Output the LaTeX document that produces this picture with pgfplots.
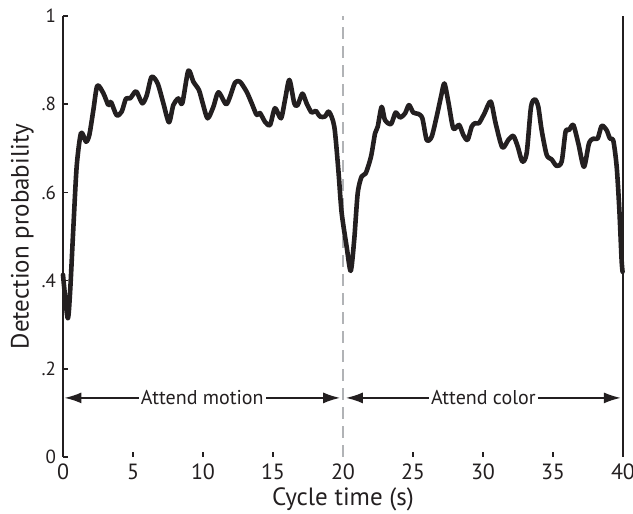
\documentclass[border=0pt]{standalone}
\usepackage{fontspec}
\setmainfont{PT Sans}
\usepackage{pgfplots}
\pgfplotsset{compat=1.18}
\usetikzlibrary{arrows.meta}
\definecolor{ink}{HTML}{231F20}
\definecolor{dashgray}{HTML}{B1B3B6}

\pgfplotstableread{
t p
0 0.413
0.33 0.315
0.5 0.37
0.74 0.52
0.98 0.66
1.29 0.735
1.64 0.715
1.88 0.73
2.17 0.787
2.45 0.842
2.88 0.825
3.24 0.798
3.43 0.805
3.83 0.775
4.19 0.783
4.5 0.813
4.79 0.813
5.14 0.828
5.3 0.826
5.67 0.802
5.98 0.82
6.33 0.862
6.76 0.847
7.17 0.802
7.57 0.759
7.88 0.798
8.24 0.813
8.52 0.802
8.95 0.876
9.31 0.851
9.71 0.832
10.0 0.80
10.33 0.768
10.74 0.794
11.1 0.827
11.64 0.8
11.93 0.817
12.29 0.849
12.64 0.851
13.12 0.828
13.48 0.802
13.83 0.776
14.07 0.78
14.43 0.76
14.79 0.753
15.14 0.791
15.57 0.768
15.86 0.81
16.17 0.855
16.52 0.802
16.76 0.798
17.1 0.824
17.4 0.802
17.76 0.781
18.05 0.785
18.36 0.772
18.71 0.772
19.0 0.783
19.38 0.749
19.67 0.65
19.9 0.555
20.26 0.477
20.55 0.422
20.8 0.492
21.05 0.598
21.33 0.636
21.62 0.643
22.0 0.681
22.29 0.734
22.48 0.749
22.76 0.794
23.0 0.764
23.43 0.755
23.76 0.781
24.07 0.77
24.43 0.779
24.71 0.798
25.02 0.781
25.38 0.778
25.67 0.768
25.98 0.719
26.33 0.726
26.69 0.772
27.0 0.817
27.24 0.847
27.52 0.806
27.88 0.745
28.29 0.753
28.6 0.73
28.9 0.719
29.19 0.749
29.43 0.757
29.71 0.757
30.1 0.779
30.55 0.806
30.9 0.757
31.38 0.702
31.81 0.719
32.17 0.728
32.48 0.704
32.81 0.67
33.12 0.689
33.43 0.794
33.71 0.811
33.95 0.794
34.19 0.741
34.55 0.685
34.9 0.675
35.26 0.66
35.62 0.67
35.9 0.738
36.14 0.741
36.45 0.753
36.81 0.711
37.21 0.658
37.57 0.711
37.88 0.722
38.19 0.722
38.48 0.751
38.83 0.741
39.07 0.722
39.31 0.717
39.55 0.658
39.74 0.56
39.9 0.447
39.97 0.42
}\detection

\begin{document}
\begin{tikzpicture}
	\begin{axis}[
		scale only axis,
		width=280pt,
		height=220.5pt,
		xmin=0, xmax=40,
		ymin=0, ymax=1,
		axis lines=left,
		axis line style={-, draw=ink, line width=1pt},
		x axis line style={draw=none},
		xtick={0,5,...,40},
		ytick={0,0.2,0.4,0.6,0.8,1},
		yticklabels={0,.2,.4,.6,.8,1},
		tick align=inside,
		major tick length=2.5pt,
		tick style={draw=ink, line width=0.8pt},
		/pgf/number format/assume math mode=true,
		xticklabel style={font=\fontsize{11}{13}\selectfont, text=ink},
		yticklabel style={font=\fontsize{9.5}{11}\selectfont, text=ink},
		xlabel={Cycle time (s)},
		ylabel={Detection probability},
		label style={font=\fontsize{12.5}{14}\selectfont, text=ink},
		xlabel style={yshift=3pt},
		ylabel style={yshift=-3pt},
		clip=false,
		]
		\coordinate (sw) at (rel axis cs:0,0);
		\coordinate (ne) at (rel axis cs:1,1);
		\draw[dashgray, line width=1.4pt, dash pattern=on 6pt off 3.5pt] (axis cs:20,0) -- (axis cs:20,1);
		\draw[ink, line width=1pt] (axis cs:40,0) -- (axis cs:40,1);
		\addplot[ink, line width=2.3pt, line join=round, line cap=round, smooth, tension=0.45] table[x=t, y=p] {\detection};
		\draw[ink, line width=0.9pt, {Latex[length=8.5pt,width=5.5pt]}-{Latex[length=8.5pt,width=5.5pt]}]
			(axis cs:0.1,0.134) -- (axis cs:19.8,0.134)
			node[midway, fill=white, inner sep=1pt, text=ink, font=\fontsize{10}{12}\selectfont] {Attend motion};
		\draw[ink, line width=0.9pt, {Latex[length=8.5pt,width=5.5pt]}-{Latex[length=8.5pt,width=5.5pt]}]
			(axis cs:20.2,0.134) -- (axis cs:39.85,0.134)
			node[midway, fill=white, inner sep=1pt, text=ink, font=\fontsize{10}{12}\selectfont] {Attend color};
	\end{axis}
	\pgfresetboundingbox
	\path[use as bounding box] ([shift={(-31.5pt,-28.5pt)}]sw) rectangle ([shift={(5pt,8pt)}]ne);
\end{tikzpicture}
\end{document}
